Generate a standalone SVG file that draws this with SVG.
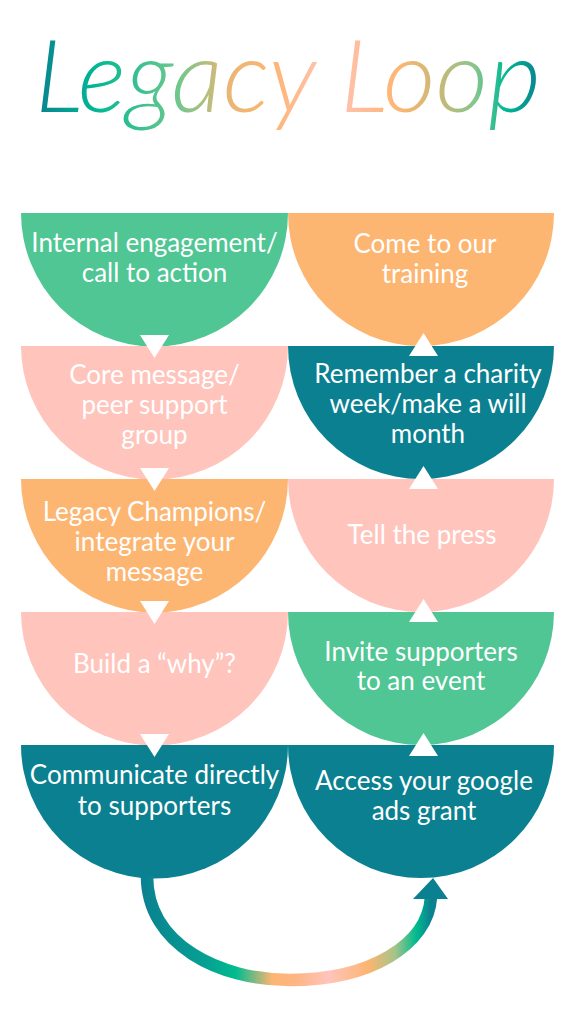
<svg xmlns="http://www.w3.org/2000/svg" width="576" height="1024" viewBox="0 0 576 1024">
<defs>
<style>
.lbl{font-family:Lato,"Noto Sans","Liberation Sans",sans-serif;font-size:26px;fill:#ffffff;text-anchor:middle}
.green{fill:#4FC693}.orange{fill:#FDB572}.pink{fill:#FFC4BC}.teal{fill:#0A8090}
.tri{fill:#ffffff}
</style>
<linearGradient id="titleGrad" gradientUnits="userSpaceOnUse" x1="35" y1="0" x2="541" y2="0">
<stop offset="0" stop-color="#0A8090"/>
<stop offset="0.12" stop-color="#00B894"/>
<stop offset="0.28" stop-color="#6CC88C"/>
<stop offset="0.38" stop-color="#E8B674"/>
<stop offset="0.47" stop-color="#FDB572"/>
<stop offset="0.58" stop-color="#FFC4BC"/>
<stop offset="0.72" stop-color="#FDB572"/>
<stop offset="0.80" stop-color="#C8B878"/>
<stop offset="0.87" stop-color="#86C68C"/>
<stop offset="0.93" stop-color="#00B894"/>
<stop offset="1" stop-color="#0A8090"/>
</linearGradient>
<linearGradient id="loopGrad" gradientUnits="userSpaceOnUse" x1="140" y1="0" x2="440" y2="0">
<stop offset="0" stop-color="#0A8090"/>
<stop offset="0.22" stop-color="#06A092"/>
<stop offset="0.32" stop-color="#00BC8F"/>
<stop offset="0.44" stop-color="#FDB572"/>
<stop offset="0.52" stop-color="#FFB584"/>
<stop offset="0.63" stop-color="#FFC4BC"/>
<stop offset="0.76" stop-color="#FDB572"/>
<stop offset="0.85" stop-color="#A6C488"/>
<stop offset="0.92" stop-color="#00BC8F"/>
<stop offset="0.97" stop-color="#0A8090"/>
<stop offset="1" stop-color="#0A8090"/>
</linearGradient>
</defs>
<rect width="576" height="1024" fill="#ffffff"/>

<g id="title">
<text x="288" y="112" text-anchor="middle" font-family="Lato,'Noto Sans',sans-serif" font-style="italic" font-weight="300" font-size="100" textLength="506" lengthAdjust="spacingAndGlyphs" fill="url(#titleGrad)">Legacy Loop</text>
</g>

<g id="n-internal"><path class="green" d="M21,213 A133.5,133.5 0 0 0 288,213 Z"/>
<text class="lbl" x="154.5" y="252">Internal engagement/</text><text class="lbl" x="154.5" y="282">call to action</text></g>
<g id="n-core"><path class="pink" d="M21,346 A133.5,133.5 0 0 0 288,346 Z"/>
<text class="lbl" x="154.5" y="384">Core message/</text><text class="lbl" x="154.5" y="414">peer support</text><text class="lbl" x="154.5" y="444">group</text></g>
<g id="n-champions"><path class="orange" d="M21,479 A133.5,133.5 0 0 0 288,479 Z"/>
<text class="lbl" x="154.5" y="521">Legacy Champions/</text><text class="lbl" x="154.5" y="551">integrate your</text><text class="lbl" x="154.5" y="581">message</text></g>
<g id="n-why"><path class="pink" d="M21,612 A133.5,133.5 0 0 0 288,612 Z"/>
<text class="lbl" x="154.5" y="673">Build a “why”?</text></g>
<g id="n-communicate"><path class="teal" d="M21,745 A133.5,133.5 0 0 0 288,745 Z"/>
<text class="lbl" x="154.5" y="784">Communicate directly</text><text class="lbl" x="154.5" y="815">to supporters</text></g>

<g id="n-training"><path class="orange" d="M288,213 A133,133 0 0 0 554,213 Z"/>
<text class="lbl" x="425" y="253">Come to our</text><text class="lbl" x="425" y="283">training</text></g>
<g id="n-remember"><path class="teal" d="M288,346 A133,133 0 0 0 554,346 Z"/>
<text class="lbl" x="428" y="383">Remember a charity</text><text class="lbl" x="428" y="413">week/make a will</text><text class="lbl" x="428" y="443">month</text></g>
<g id="n-press"><path class="pink" d="M288,479 A133,133 0 0 0 554,479 Z"/>
<text class="lbl" x="422" y="544">Tell the press</text></g>
<g id="n-event"><path class="green" d="M288,612 A133,133 0 0 0 554,612 Z"/>
<text class="lbl" x="421" y="661">Invite supporters</text><text class="lbl" x="421" y="690">to an event</text></g>
<g id="n-google"><path class="teal" d="M288,745 A133,133 0 0 0 554,745 Z"/>
<text class="lbl" x="424" y="790">Access your google</text><text class="lbl" x="424" y="820">ads grant</text></g>

<g id="connectors">
<polygon class="tri" points="140,335 169,335 154.5,358"/>
<polygon class="tri" points="140,468 169,468 154.5,491"/>
<polygon class="tri" points="140,601 169,601 154.5,624"/>
<polygon class="tri" points="140,734 169,734 154.5,757"/>
<polygon class="tri" points="409,356 438,356 423.5,333"/>
<polygon class="tri" points="409,489 438,489 423.5,466"/>
<polygon class="tri" points="409,622 438,622 423.5,599"/>
<polygon class="tri" points="409,756 438,756 423.5,733"/>
<path d="M147,876 C147,945 220,980 290,980 C370,980 428,945 431,897" fill="none" stroke="url(#loopGrad)" stroke-width="12.5"/>
<polygon class="teal" points="413,899 448,899 433,878"/>
</g>
</svg>
